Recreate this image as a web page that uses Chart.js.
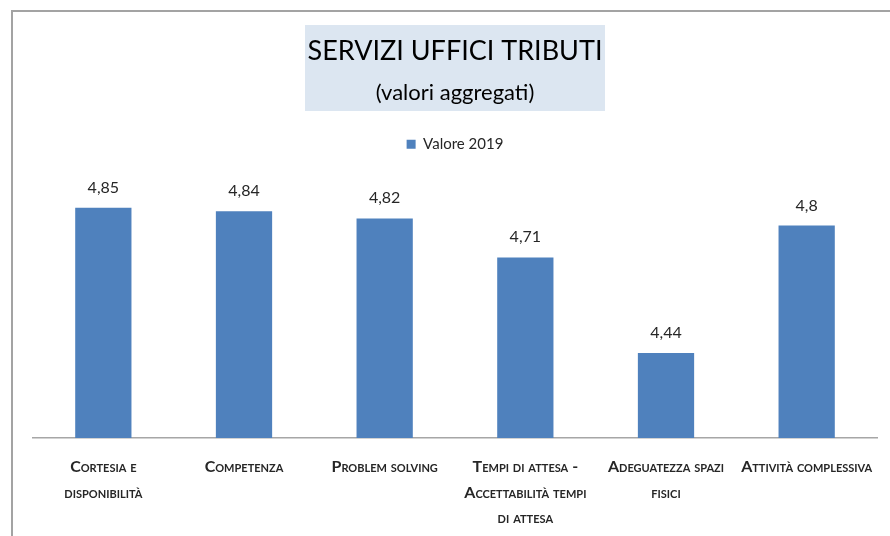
<!DOCTYPE html>
<html lang="it">
<head>
  <meta charset="UTF-8">
  <title>Servizi Uffici Tributi</title>
  <script src="https://cdn.jsdelivr.net/npm/chart.js"></script>
  <style>
    body {
      margin: 0;
      background: #ffffff;
    }

    .wrap {
      position: relative;
      width: 890px;
      height: 536px;
      overflow: hidden;
    }

    .frame {
      position: absolute;
      left: 11px;
      top: 10px;
      right: -10px;
      bottom: -10px;
      border-left: 2px solid #a3a3a3;
      border-top: 2px solid #a3a3a3;
      pointer-events: none;
    }

    canvas {
      position: absolute;
      left: 0;
      top: 0;
    }
  </style>
</head>
<body>

  <div class="wrap">
    <canvas id="chart" width="890" height="536"></canvas>
    <div class="frame"></div>
  </div>

  <script>
    const categories = [
      ['Cortesia e', 'disponibilità'],
      'Competenza',
      'Problem solving',
      ['Tempi di attesa -', 'Accettabilità tempi', 'di attesa'],
      ['Adeguatezza spazi', 'fisici'],
      'Attività complessiva'
    ];
    const valori2019 = [4.85, 4.84, 4.82, 4.71, 4.44, 4.8];
    const seriesName = 'Valore 2019';
    const yMin = 4.2;
    const yMax = 4.98;

    const FONT = 'Lato, "Open Sans", sans-serif';

    // riquadro azzurro dietro al titolo
    const titleBox = {
      id: 'titleBox',
      beforeDraw(chart) {
        const ctx = chart.ctx;
        ctx.save();
        ctx.fillStyle = '#dce6f1';
        ctx.fillRect(305, 25, 300, 86);
        ctx.restore();
      }
    };

    // etichette dei valori sopra le barre
    const valueLabels = {
      id: 'valueLabels',
      afterDatasetsDraw(chart) {
        const ctx = chart.ctx;
        const meta = chart.getDatasetMeta(0);
        ctx.save();
        ctx.font = '16px ' + FONT;
        ctx.fillStyle = '#262626';
        ctx.textAlign = 'center';
        ctx.textBaseline = 'alphabetic';
        meta.data.forEach((bar, i) => {
          const txt = String(chart.data.datasets[0].data[i]).replace('.', ',');
          ctx.fillText(txt, bar.x, bar.y - 15);
        });
        ctx.restore();
      }
    };

    new Chart(document.getElementById('chart'), {
      type: 'bar',
      data: {
        labels: categories,
        datasets: [{
          label: seriesName,
          data: valori2019,
          backgroundColor: '#4f81bd',
          borderWidth: 0,
          barPercentage: 0.5,
          categoryPercentage: 0.8
        }]
      },
      options: {
        responsive: false,
        animation: false,
        layout: {
          padding: { top: 25, left: 33, right: 13, bottom: 0 }
        },
        plugins: {
          title: {
            display: true,
            text: 'SERVIZI UFFICI TRIBUTI',
            color: '#000000',
            font: { family: FONT, size: 27, weight: 'normal', lineHeight: 1.2 },
            padding: { top: 10, bottom: 12 }
          },
          subtitle: {
            display: true,
            text: '(valori aggregati)',
            color: '#000000',
            font: { family: FONT, size: 22, weight: 'normal', lineHeight: 1.2 },
            padding: { top: 0, bottom: 26 }
          },
          legend: {
            display: true,
            labels: {
              color: '#262626',
              font: { family: FONT, size: 15 },
              boxWidth: 9,
              boxHeight: 9,
              padding: 5
            }
          },
          tooltip: { enabled: false }
        },
        scales: {
          x: {
            grid: { display: false, drawTicks: false },
            border: { display: true, color: '#a6a6a6', width: 1.5 },
            ticks: {
              color: '#262626',
              font: { family: FONT, size: 16, weight: 'small-caps bold', lineHeight: 1.6 },
              padding: 16,
              maxRotation: 0,
              autoSkip: false
            },
            afterFit(scale) {
              scale.height = 98;
            }
          },
          y: {
            display: false,
            min: yMin,
            max: yMax
          }
        }
      },
      plugins: [titleBox, valueLabels]
    });
  </script>
</body>
</html>
